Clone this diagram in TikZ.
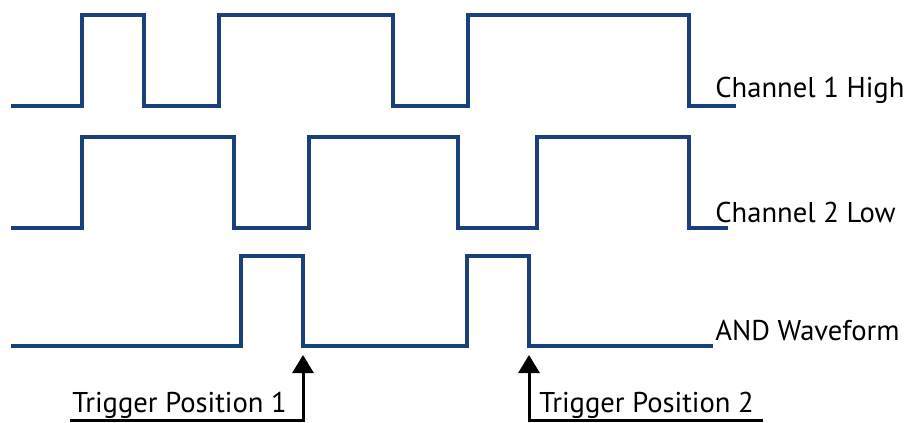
\documentclass[tikz,border=0pt]{standalone}
\usepackage{fontspec}
\setmainfont{PT Sans}
\usepackage{xcolor}
\usetikzlibrary{arrows.meta}
\definecolor{wavblue}{RGB}{26,64,122}

\begin{document}
\begin{tikzpicture}[
    x=0.5pt, y=-0.5pt,
    wave/.style={draw=wavblue, line width=2.2pt, line join=miter},
    trig/.style={-{Triangle[width=10.5pt,length=9pt]}, line width=1.5pt,
                 shorten >=4.5pt},
    lbl/.style={anchor=base west, inner sep=0pt,
                font=\fontsize{14.3}{17}\selectfont}
]
\useasboundingbox (0,0) rectangle (911,423);

% waveforms
\draw[wave] (11,106) -| (82,15) -| (144,106) -| (219,15) -| (393,106)
    -| (468,15) -| (689,106) -- (736,106) coordinate (ch1end);
\draw[wave] (11,228) -| (82,137) -| (234,228) -| (309,137) -| (458,228)
    -| (537,137) -| (689,228) -- (728,228) coordinate (ch2end);
\draw[wave] (11,346) -| (241,256) -| (303,346) coordinate (fall1)
    -| (467,256) -| (529,346) coordinate (fall2) -- (713,346) coordinate (andend);

% labels
\node[lbl] (ch1) at (715,97) {Channel 1 High};
\node[lbl] (ch2) at (715,222) {Channel 2 Low};
\node[lbl] (and) at (715,340) {AND Waveform};

% trigger markers
\node[lbl] (trig1) at (72,412) {Trigger Position 1};
\node[lbl] (trig2) at (539,412) {Trigger Position 2};
\coordinate (foot1) at (70,420);
\coordinate (foot2) at (763,420);
\draw[trig] (foot1) -| (fall1);
\draw[trig] (foot2) -| (fall2);
\end{tikzpicture}
\end{document}
